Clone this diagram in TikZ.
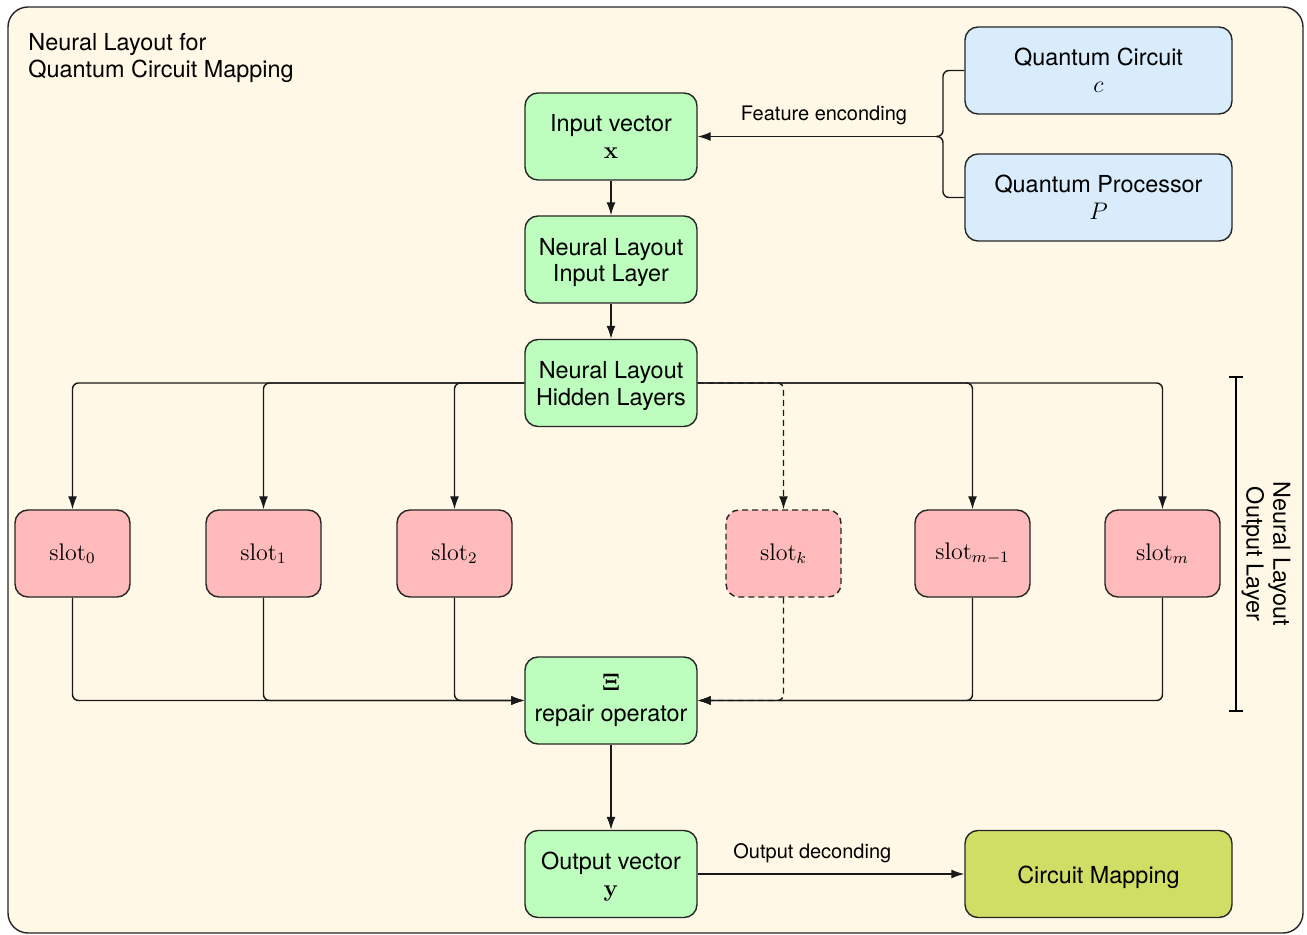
\documentclass[tikz,border=0pt]{standalone}
\usepackage[no-math]{fontspec}
\setmainfont{TeX Gyre Heros}
\usetikzlibrary{arrows.meta}

\definecolor{panelcream}{RGB}{255,248,230}
\definecolor{layergreen}{RGB}{189,253,190}
\definecolor{inputblue}{RGB}{216,236,252}
\definecolor{slotpink}{RGB}{255,187,187}
\definecolor{mapolive}{RGB}{208,222,102}

% invisible strut that lowers the text block a little inside its box
\newcommand\toppad{\rule{0pt}{11.6pt}}

\begin{document}
\begin{tikzpicture}[x=0.5pt,y=-0.5pt,
  font=\fontsize{11.7}{13.3}\selectfont,
  box/.style={draw=black!85, line width=0.7pt, rounded corners=6.5pt, align=center, inner sep=2pt},
  gbox/.style={box, fill=layergreen, minimum width=86pt, minimum height=43.5pt},
  bbox/.style={box, fill=inputblue, minimum width=133.5pt, minimum height=43.5pt},
  obox/.style={box, fill=mapolive, minimum width=133.5pt, minimum height=43.5pt},
  sbox/.style={box, fill=slotpink, minimum width=57.5pt, minimum height=43.5pt},
  wire/.style={line width=0.7pt, draw=black!90},
  link/.style={wire, -{Latex[length=6.5pt,width=4.5pt]}},
  softturn/.style={rounded corners=3pt},
  dashline/.style={dash pattern=on 3pt off 2pt},
  lbl/.style={font=\fontsize{10}{12}\selectfont},
]
% canvas and panel
\fill[white] (0,0) rectangle (1307,935);
\useasboundingbox (0,0) rectangle (1307,935);
\draw[fill=panelcream, draw=black!85, line width=0.7pt, rounded corners=10pt] (8,7) rectangle (1303,933);

\node[anchor=north west, inner sep=0pt, align=left] (title) at (28,33)
  {Neural Layout for\\Quantum Circuit Mapping};

% main column
\node[gbox] (in)  at (611,136.5) {Input vector\\$\mathbf{x}$};
\node[gbox] (il)  at (611,259.5) {\toppad Neural Layout\\Input Layer};
\node[gbox] (hl)  at (611,383)   {\toppad Neural Layout\\Hidden Layers};
\node[gbox] (rep) at (611,700.5) {$\mathbf{\Xi}$\\[2pt]repair operator};
\node[gbox] (out) at (611,874)   {\toppad Output vector\\$\mathbf{y}$};

% inputs and result
\node[bbox] (qc) at (1098.5,70.5)  {Quantum Circuit\\$c$};
\node[bbox] (qp) at (1098.5,197.5) {Quantum Processor\\$P$};
\node[obox] (cm) at (1098.5,874)   {\toppad Circuit Mapping};

% output slots
\node[sbox] (s0) at (72.5,553.5)   {$\mathrm{slot}_0$};
\node[sbox] (s1) at (263.5,553.5)  {$\mathrm{slot}_1$};
\node[sbox] (s2) at (454.5,553.5)  {$\mathrm{slot}_2$};
\node[sbox, dashline] (sk) at (783.5,553.5) {$\mathrm{slot}_k$};
\node[sbox] (sm1) at (972.5,553.5) {$\mathrm{slot}_{m-1}$};
\node[sbox] (sm) at (1162.5,553.5) {$\mathrm{slot}_m$};

% feature encoding brace
\coordinate (fe) at (936,136.5);
\draw[wire, softturn] (qc.west) -| (943,136.5) -- (fe);
\draw[wire, softturn] (qp.west) -| (943,136.5) -- (fe);
\draw[link] (fe) -- node[lbl, above=2pt, pos=0.47] {Feature enconding} (in.east);

% column flow
\draw[link] (in) -- (il);
\draw[link] (il) -- (hl);
\draw[link] (rep) -- (out);
\draw[link] (out) -- node[lbl, above=2pt, pos=0.43] {Output deconding} (cm);

% hidden layers to slots
\draw[link, softturn] (hl.west) -| (s0.north);
\draw[link, softturn] (hl.west) -| (s1.north);
\draw[link, softturn] (hl.west) -| (s2.north);
\draw[link, softturn, dashline] (hl.east) -| (sk.north);
\draw[link, softturn] (hl.east) -| (sm1.north);
\draw[link, softturn] (hl.east) -| (sm.north);

% slots to repair operator
\draw[link, softturn] (s0.south) |- (rep.west);
\draw[link, softturn] (s1.south) |- (rep.west);
\draw[link, softturn] (s2.south) |- (rep.west);
\draw[link, softturn, dashline] (sk.south) |- (rep.east);
\draw[link, softturn] (sm1.south) |- (rep.east);
\draw[link, softturn] (sm.south) |- (rep.east);

% output layer bracket
\coordinate (bt) at (1236,376);
\coordinate (bb) at (1236,712);
\draw[line width=1.1pt, {Bar[width=7pt]}-{Bar[width=7pt]}] (bt) -- (bb);
\node[rotate=-90, align=center] (olabel) at (1266,554) {Neural Layout\\Output Layer};
\end{tikzpicture}
\end{document}
